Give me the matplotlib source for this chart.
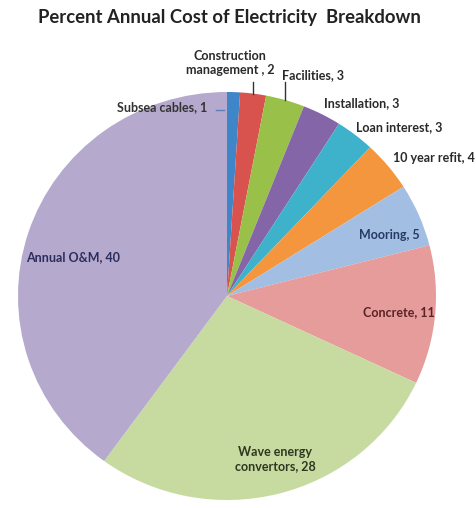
import numpy as np
import matplotlib
matplotlib.use("Agg")
import matplotlib.pyplot as plt

# Share of the annual cost of electricity, percent
categories = ["Subsea cables", "Construction\nmanagement ", "Facilities", "Installation",
              "Loan interest", "10 year refit", "Mooring", "Concrete",
              "Wave energy\nconvertors", "Annual O&M"]
values = [1, 2, 3, 3, 3, 4, 5, 11, 28, 40]

colors = ["#3F86C8", "#D8524E", "#99C049", "#8466A8", "#3FB2CB", "#F4963E",
          "#A3BEE3", "#E59C9B", "#C7DBA1", "#B5A9CD"]
text_colors = ["#333333", "#2a2a2a", "#2a2a2a", "#2a2a2a", "#2a2a2a", "#2a2a2a",
               "#263A66", "#5A2424", "#2E3820", "#2B2D5C"]

# Label anchor positions (axes data units, pie radius = 1) and alignment
label_pos = [(-0.095, 0.925), (0.015, 1.14), (0.265, 1.083), (0.645, 0.946),
             (0.825, 0.828), (0.99, 0.676), (0.775, 0.299), (0.82, -0.078),
             (0.23, -0.80), (-0.735, 0.191)]
label_ha = ["right", "center", "left", "center", "center", "center",
            "center", "center", "center", "center"]

W, H = 477, 508
fig = plt.figure(figsize=(W / 100, H / 100), dpi=100)
fig.patch.set_facecolor("white")

cx, cy, rx, ry = 227, 296, 209, 204
ax = fig.add_axes([(cx - rx) / W, (H - cy - ry) / H, 2 * rx / W, 2 * ry / H])

wedges, _ = ax.pie(values, colors=colors, startangle=90, counterclock=False,
                   radius=1.0, wedgeprops=dict(linewidth=0))
ax.set_aspect("auto")
ax.set_xlim(-1, 1)
ax.set_ylim(-1, 1)
ax.axis("off")

font = ["Lato", "DejaVu Sans"]
for i, (cat, val) in enumerate(zip(categories, values)):
    x, y = label_pos[i]
    ax.text(x, y, f"{cat}, {val}", ha=label_ha[i], va="center", fontsize=9.0,
            fontweight="bold", color=text_colors[i], family=font,
            multialignment="center", linespacing=1.2, clip_on=False)

# Leader lines from the small top slices up to their labels
def edge_point(w):
    ang = np.deg2rad((w.theta1 + w.theta2) / 2)
    return np.cos(ang), np.sin(ang)

for i, rise in [(1, 0.055), (2, 0.09)]:
    ex, ey = edge_point(wedges[i])
    ax.plot([ex, ex], [ey, ey + rise], color="#333333", lw=1.0, clip_on=False)

ex, ey = edge_point(wedges[0])
ax.plot([label_pos[0][0] + 0.04, ex - 0.045], [0.91, 0.91],
        color="#5B7FB8", lw=1.0, clip_on=False)

fig.text(0.482, 1 - 18 / H, "Percent Annual Cost of Electricity  Breakdown",
         ha="center", va="center", fontsize=13.3, fontweight="bold",
         color="#222222", family=font)

fig.savefig("out.png", dpi=100, facecolor="white")
